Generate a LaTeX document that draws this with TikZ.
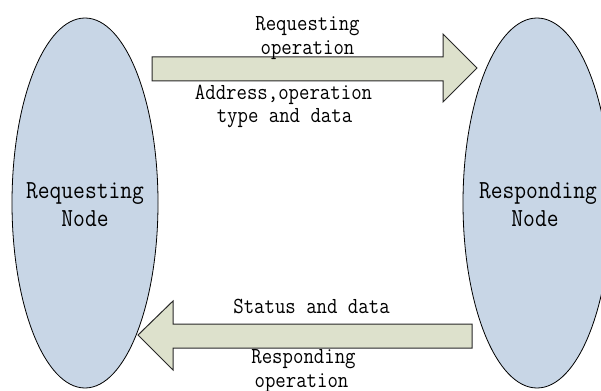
\documentclass[tikz,border=0pt]{standalone}
\usepackage{fontspec}
\newcommand{\labtxt}[1]{\scalebox{0.88}[1]{\fontsize{23}{23}\ttfamily #1}}
\newcommand{\nodetxt}[1]{\scalebox{0.88}[1]{\fontsize{26}{26}\ttfamily #1}}
\definecolor{ellfill}{RGB}{200,214,230}
\definecolor{arrfill}{RGB}{221,225,204}
\definecolor{arrline}{RGB}{40,40,40}
\tikzset{
  endnode/.style={draw=black, line width=0.8pt, fill=ellfill},
  blockarrow/.style={draw=arrline, line width=1pt, fill=arrfill, line join=miter},
  lab/.style={inner sep=0pt, anchor=base},
}
\begin{document}
\begin{tikzpicture}[x=1pt, y=-1pt]
\useasboundingbox (0,0) rectangle (601,390);
% end nodes
\draw[endnode] (85,203) ellipse [x radius=73, y radius=185];
\draw[endnode] (537,203) ellipse [x radius=74, y radius=185];
\node[lab] (rq1) at (85,198) {\nodetxt{Requesting}};
\node[lab] (rq2) at (85,226) {\nodetxt{Node}};
\node[lab] (rs1) at (538,198) {\nodetxt{Responding}};
\node[lab] (rs2) at (535,226) {\nodetxt{Node}};
% block arrows
\draw[blockarrow] (152,57) -- (443,57) -- (443,34) -- (477,68) -- (443,102) -- (443,81) -- (152,81) -- cycle;
\draw[blockarrow] (472,324) -- (173,324) -- (173,301) -- (138,335) -- (173,370) -- (173,348) -- (472,348) -- cycle;
% labels
\node[lab] (t1) at (307.5,31) {\labtxt{Requesting}};
\node[lab] (t2) at (307.5,55) {\labtxt{operation}};
\node[lab] (t3) at (283.5,100) {\labtxt{Address,operation}};
\node[lab] (t4) at (284.5,123) {\labtxt{type and data}};
\node[lab] (b1) at (311.5,313) {\labtxt{Status and data}};
\node[lab] (b2) at (303.5,363) {\labtxt{Responding}};
\node[lab] (b3) at (301.5,387) {\labtxt{operation}};
\end{tikzpicture}
\end{document}
